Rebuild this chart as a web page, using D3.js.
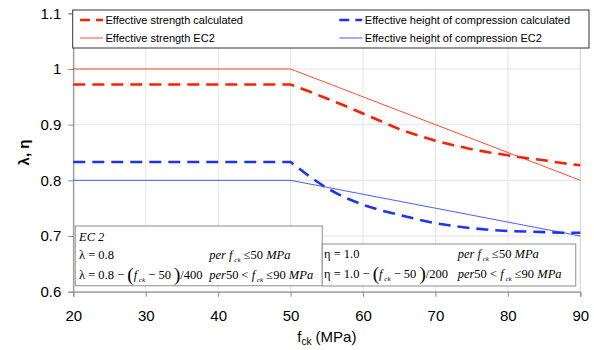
<!DOCTYPE html>
<html><head><meta charset="utf-8">
<script src="https://cdn.jsdelivr.net/npm/d3@7"></script>
<style>body{margin:0;background:#fff;} svg{display:block;}</style>
</head><body>
<svg id="c" width="594" height="350"></svg>
<script>
// ---- data ----
const fckCalc = [20, 50, 52.5, 55, 57.5, 60, 62.5, 65, 67.5, 70, 72.5, 75, 77.5, 80, 82.5, 85, 87.5, 90];
const etaCalc = [0.972, 0.972, 0.960, 0.947, 0.934, 0.920, 0.906, 0.892, 0.881, 0.871, 0.863, 0.856, 0.850, 0.845, 0.840, 0.836, 0.831, 0.827];
const lambdaCalc = [0.833, 0.833, 0.808, 0.786, 0.769, 0.756, 0.746, 0.738, 0.730, 0.723, 0.718, 0.714, 0.711, 0.709, 0.708, 0.707, 0.706, 0.706];
const fckEC2 = [20, 50, 90];
const etaEC2 = [1.0, 1.0, 0.8];
const lambdaEC2 = [0.8, 0.8, 0.7];
const xTicks = [20, 30, 40, 50, 60, 70, 80, 90];
const yTicks = [0.6, 0.7, 0.8, 0.9, 1.0, 1.1];
const yTickLabels = ["0.6", "0.7", "0.8", "0.9", "1", "1.1"];
const seriesNames = ["Effective strength calculated", "Effective strength EC2",
  "Effective height of compression calculated", "Effective height of compression EC2"];

const svg = d3.select("#c");
const x = d3.scaleLinear().domain([20, 90]).range([73.3, 580.3]);
const y = d3.scaleLinear().domain([0.6, 1.1]).range([291.7, 13.3]);

const RED = "#ff1e00", BLUE = "#1a33ff";

// grid
const g = svg.append("g");
g.selectAll(".vg").data(xTicks.slice(1, -1)).enter().append("line")
  .attr("x1", d => x(d)).attr("x2", d => x(d)).attr("y1", y(1.1)).attr("y2", y(0.6))
  .attr("stroke", "#e4e4e4").attr("stroke-width", 1);
g.selectAll(".hg").data(yTicks.slice(1, -1)).enter().append("line")
  .attr("x1", x(20)).attr("x2", x(90)).attr("y1", d => y(d)).attr("y2", d => y(d))
  .attr("stroke", "#e4e4e4").attr("stroke-width", 1);
// plot border right/top
g.append("rect").attr("x", x(20)).attr("y", y(1.1)).attr("width", x(90) - x(20)).attr("height", y(0.6) - y(1.1))
  .attr("fill", "none").attr("stroke", "#cfcfcf");

// axes
const xAxis = d3.axisBottom(x).tickValues(xTicks).tickSize(5).tickFormat(d3.format("d"));
const yAxis = d3.axisLeft(y).tickValues(yTicks).tickSize(5).tickFormat((d, i) => yTickLabels[i]);
const ax = svg.append("g").attr("transform", `translate(0,${y(0.6)})`).call(xAxis);
const ay = svg.append("g").attr("transform", `translate(${x(20)},0)`).call(yAxis);
[ax, ay].forEach(a => {
  a.select(".domain").attr("stroke", "#888");
  a.selectAll(".tick line").attr("stroke", "#888");
  a.selectAll("text").attr("font-family", "Liberation Sans, Arial, sans-serif").attr("font-size", 15).attr("fill", "#000");
});
ax.selectAll("text").attr("dy", "0.71em").attr("y", 19);
ay.selectAll("text").attr("x", -12);

// axis titles
svg.append("text").attr("transform", `translate(29,${(y(0.6) + y(1.1)) / 2}) rotate(-90)`)
  .attr("text-anchor", "middle").attr("font-family", "Liberation Sans, Arial, sans-serif")
  .attr("font-size", 15).attr("font-weight", "bold").text("λ, η");
const xt = svg.append("text").attr("x", (x(20) + x(90)) / 2).attr("y", 342)
  .attr("text-anchor", "middle").attr("font-family", "Liberation Sans, Arial, sans-serif").attr("font-size", 15);
xt.append("tspan").text("f");
xt.append("tspan").attr("font-size", 10).attr("dy", 3).text("ck");
xt.append("tspan").attr("dy", -3).text(" (MPa)");

// lines
const line = d3.line().x(d => x(d[0])).y(d => y(d[1]));
const lines = [
  {xs: fckEC2, ys: etaEC2, color: RED, w: 0.8, dash: null},
  {xs: fckEC2, ys: lambdaEC2, color: BLUE, w: 0.8, dash: null},
  {xs: fckCalc, ys: etaCalc, color: RED, w: 2.6, dash: "12,7"},
  {xs: fckCalc, ys: lambdaCalc, color: BLUE, w: 2.6, dash: "12,7"},
];
lines.forEach(s => {
  svg.append("path").datum(s.xs.map((v, i) => [v, s.ys[i]]))
    .attr("d", line).attr("fill", "none").attr("stroke", s.color).attr("stroke-width", s.w)
    .attr("stroke-dasharray", s.dash);
});

// EC2 formula boxes
const SERIF = "Liberation Serif, Times New Roman, serif";
function box(x0, y0, w, h) {
  svg.append("rect").attr("x", x0).attr("y", y0).attr("width", w).attr("height", h)
    .attr("fill", "#fff").attr("stroke", "#a0a0a0").attr("stroke-width", 1.2);
}
function formula(x0, yb, sym, val, denom) {
  const t = svg.append("text").attr("x", x0).attr("y", yb).attr("font-family", SERIF).attr("font-size", 12.5);
  t.append("tspan").text(`${sym} = ${val} − `);
  t.append("tspan").attr("font-size", 19).attr("dy", 2).text("(");
  t.append("tspan").attr("font-style", "italic").attr("dy", -2).text("f");
  t.append("tspan").attr("font-style", "italic").attr("font-size", 7).attr("dy", 3).text(" ck");
  t.append("tspan").attr("dy", -3).text(" − 50 ");
  t.append("tspan").attr("font-size", 19).attr("dy", 2).text(")");
  t.append("tspan").attr("dy", -2).text(`/${denom}`);
}
function cond1(x0, yb) {
  const t = svg.append("text").attr("x", x0).attr("y", yb).attr("font-family", SERIF).attr("font-size", 12.5).attr("font-style", "italic");
  t.append("tspan").text("per f");
  t.append("tspan").attr("font-size", 7).attr("dy", 3).text("  ck");
  t.append("tspan").attr("dy", -3).attr("font-style", "normal").text("  ≤");
  t.append("tspan").attr("font-style", "normal").text("50 ");
  t.append("tspan").text("MPa");
}
function cond2(x0, yb) {
  const t = svg.append("text").attr("x", x0).attr("y", yb).attr("font-family", SERIF).attr("font-size", 12.5).attr("font-style", "italic");
  t.append("tspan").text("per");
  t.append("tspan").attr("font-style", "normal").text("50  < ");
  t.append("tspan").text("f");
  t.append("tspan").attr("font-size", 7).attr("dy", 3).text(" ck");
  t.append("tspan").attr("dy", -3).attr("font-style", "normal").text("  ≤90  ");
  t.append("tspan").text("MPa");
}
box(75.3, 226, 247, 59.7);
svg.append("text").attr("x", 79).attr("y", 240.5).attr("font-family", SERIF).attr("font-size", 12.5)
  .attr("font-style", "italic").text("EC 2");
svg.append("text").attr("x", 79).attr("y", 259).attr("font-family", SERIF).attr("font-size", 12.5).text("λ = 0.8");
cond1(209.3, 259);
formula(79, 279, "λ", "0.8", "400");
cond2(209.3, 279);

box(322.3, 244, 253.4, 42);
svg.append("text").attr("x", 324).attr("y", 257.5).attr("font-family", SERIF).attr("font-size", 12.5).text("η = 1.0");
cond1(457.7, 257.5);
formula(324, 277.5, "η", "1.0", "200");
cond2(457.7, 277.5);

// legend
svg.append("rect").attr("x", 72.7).attr("y", 10).attr("width", 516.3).attr("height", 38)
  .attr("fill", "#fff").attr("stroke", "#333").attr("stroke-width", 1);
const legItems = [
  {name: seriesNames[0], color: RED, w: 2.6, dash: "10,6", lx: 80, y: 20},
  {name: seriesNames[1], color: RED, w: 0.8, dash: null, lx: 80, y: 38},
  {name: seriesNames[2], color: BLUE, w: 2.6, dash: "10,6", lx: 339.3, y: 20},
  {name: seriesNames[3], color: BLUE, w: 0.8, dash: null, lx: 339.3, y: 38},
];
legItems.forEach(it => {
  svg.append("line").attr("x1", it.lx).attr("x2", it.lx + 23).attr("y1", it.y).attr("y2", it.y)
    .attr("stroke", it.color).attr("stroke-width", it.w).attr("stroke-dasharray", it.dash);
  svg.append("text").attr("x", it.lx + 25.5).attr("y", it.y + 4).attr("font-family", "Liberation Sans, Arial, sans-serif")
    .attr("font-size", 11).attr("fill", "#000").text(it.name);
});
</script>
</body></html>
